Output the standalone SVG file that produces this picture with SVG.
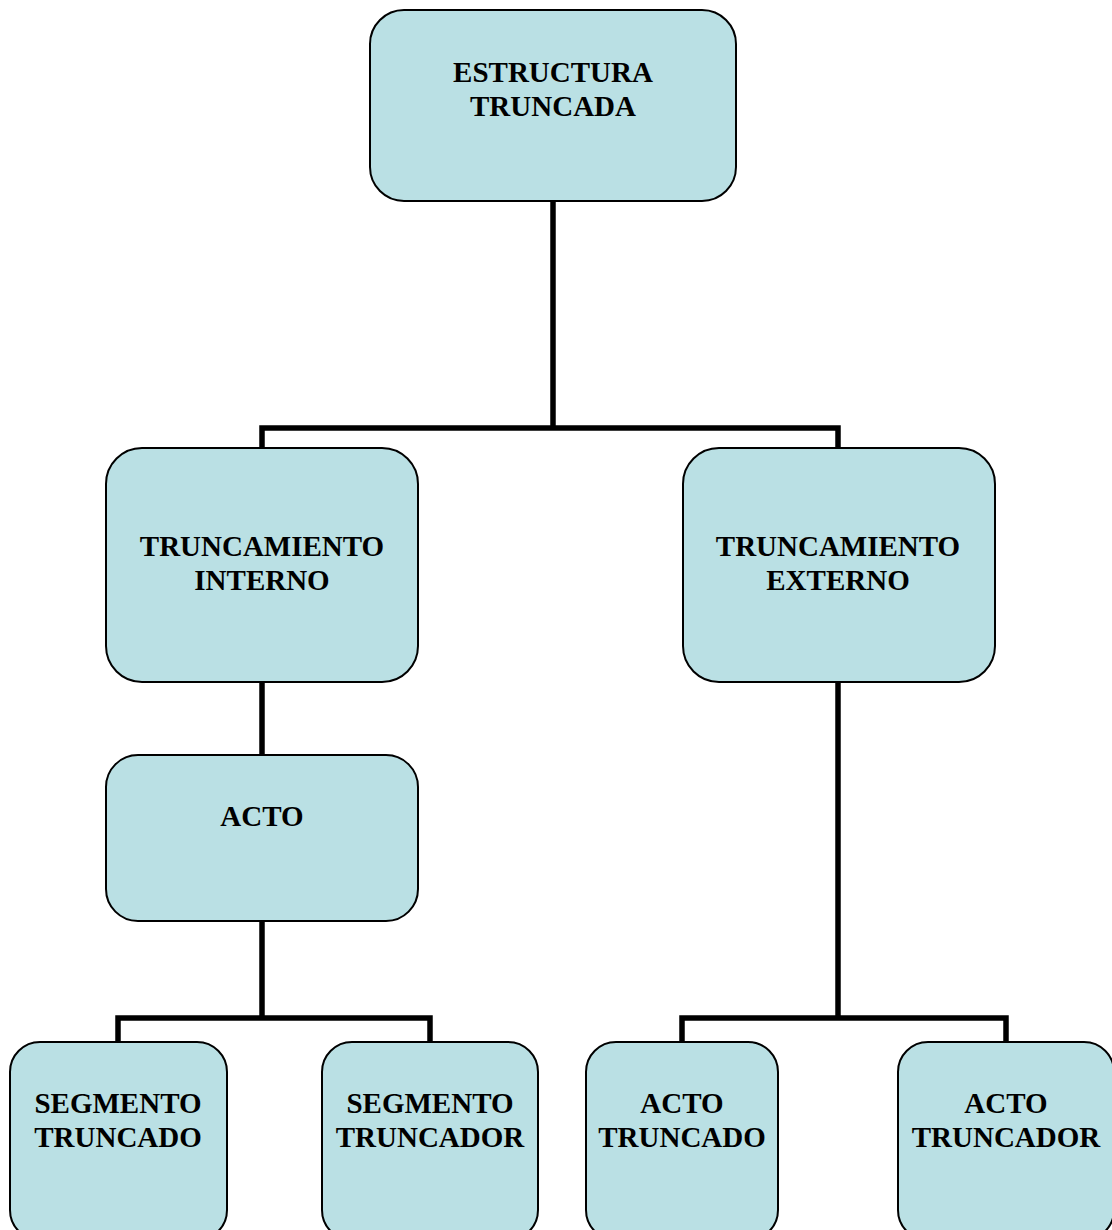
<svg xmlns="http://www.w3.org/2000/svg" width="1112" height="1230" viewBox="0 0 1112 1230">
<style>
.box{fill:#bae0e4;stroke:#000;stroke-width:2}
.lbl{font-family:"Liberation Serif","Times New Roman",serif;font-weight:bold;font-size:29px;fill:#000;text-anchor:middle}
.conn{fill:none;stroke:#000;stroke-width:5.5;stroke-linejoin:miter;stroke-linecap:butt}
</style>
<rect width="1112" height="1230" fill="#fff"/>
<g id="connectors">
<path class="conn" d="M553 201 V428"/>
<path class="conn" d="M262 449 V428 H838 V449"/>
<path class="conn" d="M262 682 V755"/>
<path class="conn" d="M262 921 V1018"/>
<path class="conn" d="M118 1042 V1018 H430 V1042"/>
<path class="conn" d="M838 682 V1018"/>
<path class="conn" d="M682 1042 V1018 H1006 V1042"/>
</g>
<g id="n_estructura">
<rect class="box" x="370" y="10" width="366" height="191" rx="34" ry="34"/>
<text class="lbl" x="553" y="82">ESTRUCTURA</text>
<text class="lbl" x="553" y="116">TRUNCADA</text>
</g>
<g id="n_interno">
<rect class="box" x="106" y="448" width="312" height="234" rx="36" ry="36"/>
<text class="lbl" x="262" y="556">TRUNCAMIENTO</text>
<text class="lbl" x="262" y="590">INTERNO</text>
</g>
<g id="n_externo">
<rect class="box" x="683" y="448" width="312" height="234" rx="36" ry="36"/>
<text class="lbl" x="838" y="556">TRUNCAMIENTO</text>
<text class="lbl" x="838" y="590">EXTERNO</text>
</g>
<g id="n_acto">
<rect class="box" x="106" y="755" width="312" height="166" rx="32" ry="32"/>
<text class="lbl" x="262" y="826">ACTO</text>
</g>
<g id="n_seg_truncado">
<rect class="box" x="10" y="1042" width="217" height="198" rx="30" ry="30"/>
<text class="lbl" x="118" y="1113">SEGMENTO</text>
<text class="lbl" x="118" y="1147">TRUNCADO</text>
</g>
<g id="n_seg_truncador">
<rect class="box" x="322" y="1042" width="216" height="198" rx="30" ry="30"/>
<text class="lbl" x="430" y="1113">SEGMENTO</text>
<text class="lbl" x="430" y="1147">TRUNCADOR</text>
</g>
<g id="n_acto_truncado">
<rect class="box" x="586" y="1042" width="192" height="198" rx="30" ry="30"/>
<text class="lbl" x="682" y="1113">ACTO</text>
<text class="lbl" x="682" y="1147">TRUNCADO</text>
</g>
<g id="n_acto_truncador">
<rect class="box" x="898" y="1042" width="216" height="198" rx="30" ry="30"/>
<text class="lbl" x="1006" y="1113">ACTO</text>
<text class="lbl" x="1006" y="1147">TRUNCADOR</text>
</g>
</svg>
